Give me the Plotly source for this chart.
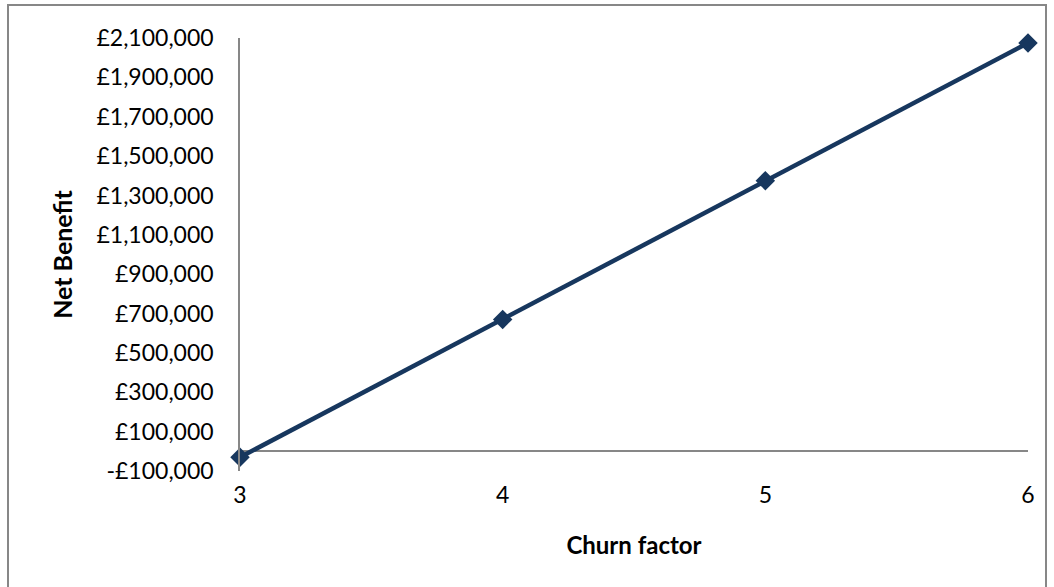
import plotly.graph_objects as go

# Net benefit by churn factor
churn_factor = [3, 4, 5, 6]
net_benefit = [-30000, 670000, 1375000, 2075000]

# Y axis ticks
y_ticks = list(range(-100000, 2100001, 200000))
y_labels = [("-£{:,}".format(-v) if v < 0 else "£{:,}".format(v)) for v in y_ticks]

NAVY = "#17375E"
GRID = "#878787"
FONT = "Lato, Open Sans, sans-serif"

PLOT_W, PLOT_H = 788, 433

fig = go.Figure()
fig.add_trace(go.Scatter(
    x=churn_factor, y=net_benefit, mode="lines+markers",
    line=dict(color=NAVY, width=4.5),
    marker=dict(symbol="diamond", size=15, color=NAVY),
    cliponaxis=False, showlegend=False,
))

fig.update_layout(
    width=1054, height=587,
    margin=dict(l=240, r=26, t=38, b=116),
    paper_bgcolor="white", plot_bgcolor="white",
    font=dict(family=FONT, size=23, color="black"),
    xaxis=dict(
        range=[3, 6], tickvals=churn_factor, ticktext=[str(v) for v in churn_factor],
        showgrid=False, showline=False, zeroline=False,
        ticks="outside", ticklen=3, tickcolor="rgba(0,0,0,0)",
        title=dict(text="<b>Churn factor</b>", font=dict(size=24), standoff=30),
    ),
    yaxis=dict(
        range=[-100000, 2100000], tickvals=y_ticks, ticktext=y_labels,
        showgrid=False, showline=True, linecolor=GRID, linewidth=1.5,
        zeroline=True, zerolinecolor=GRID, zerolinewidth=2,
        ticks="outside", ticklen=20, tickcolor="rgba(0,0,0,0)",
        title=dict(text="<b>Net Benefit</b>", font=dict(size=25), standoff=17),
    ),
    # outer chart frame
    shapes=[dict(
        type="rect", xref="paper", yref="paper",
        x0=-232 / PLOT_W, x1=806 / PLOT_W,
        y0=-130 / PLOT_H, y1=(PLOT_H + 33) / PLOT_H,
        line=dict(color=GRID, width=2), fillcolor="rgba(0,0,0,0)", layer="below",
    )],
)

fig.write_html("out.html")
